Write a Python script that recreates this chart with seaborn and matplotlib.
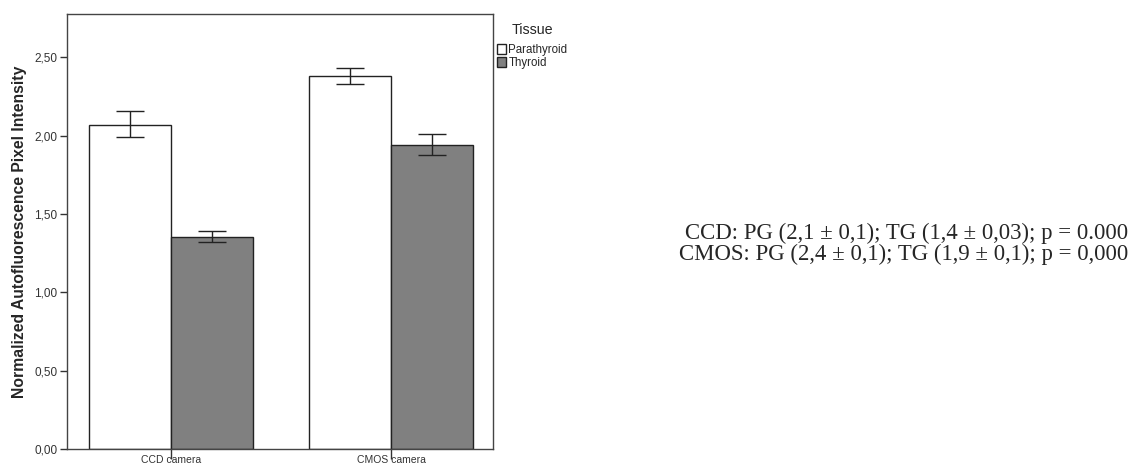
import numpy as np
import pandas as pd
import matplotlib
matplotlib.use("Agg")
import matplotlib.pyplot as plt
import seaborn as sns

cameras = ["CCD camera", "CMOS camera"]
tissues = ["Parathyroid", "Thyroid"]
means = {"Parathyroid": [2.07, 2.38], "Thyroid": [1.355, 1.943]}
err_low = {"Parathyroid": [1.99, 2.328], "Thyroid": [1.324, 1.875]}
err_high = {"Parathyroid": [2.16, 2.43], "Thyroid": [1.39, 2.011]}
yticks = [0.0, 0.5, 1.0, 1.5, 2.0, 2.5]
note_lines = ["CCD: PG (2,1 \u00b1 0,1); TG (1,4 \u00b1 0,03); p = 0.000",
              "CMOS: PG (2,4 \u00b1 0,1); TG (1,9 \u00b1 0,1); p = 0,000"]

rows = []
for t in tissues:
    for i, c in enumerate(cameras):
        rows.append({"camera": c, "tissue": t, "value": means[t][i],
                     "lo": err_low[t][i], "hi": err_high[t][i]})
df = pd.DataFrame(rows)

sns.set_style("white")
plt.rcParams["font.family"] = ["Liberation Sans", "DejaVu Sans"]

fig = plt.figure(figsize=(11.37, 4.65), dpi=100)
ax = fig.add_axes([0.0589, 0.0344, 0.3747, 0.9355])

sns.barplot(data=df, x="camera", y="value", hue="tissue", order=cameras,
            hue_order=tissues, palette={"Parathyroid": "white", "Thyroid": "#808080"},
            errorbar=None, width=0.745, edgecolor="#222222", linewidth=1.0,
            saturation=1, ax=ax)

# error bars at bar centres
for cont, t in zip(ax.containers, tissues):
    sub = df[df["tissue"] == t].set_index("camera").loc[cameras]
    xs = [p.get_x() + p.get_width() / 2 for p in cont.patches]
    yerr = np.array([sub["value"] - sub["lo"], sub["hi"] - sub["value"]])
    ax.errorbar(xs, sub["value"], yerr=yerr, fmt="none", ecolor="#222222",
                elinewidth=1.0, capsize=10, capthick=1.0)

ax.set_xlim(-0.473, 1.464)
ax.set_ylim(0, 2.776)
ax.set_yticks(yticks)
ax.set_yticklabels([f"{v:.2f}".replace(".", ",") for v in yticks], fontsize=8.5, color="#333333")
ax.set_xticks(range(len(cameras)))
ax.set_xticklabels(cameras, fontsize=7.5, color="#333333")
ax.tick_params(axis="y", direction="out", length=5, width=1, color="#333333", pad=2, left=True)
ax.tick_params(axis="x", direction="out", length=7, width=1, color="#333333", pad=-2.5, bottom=True)
ax.set_xlabel("")
ax.set_ylabel("Normalized Autofluorescence Pixel Intensity", fontsize=11.3,
              fontweight="bold", labelpad=5)
for s in ax.spines.values():
    s.set_visible(True)
    s.set_color("#444444")
    s.set_linewidth(1.0)

handles, labels = ax.get_legend_handles_labels()
ax.get_legend().remove()
leg = fig.legend(handles, labels, title="Tissue", loc="upper left",
                 bbox_to_anchor=(490 / 1137, 1 - 16 / 465), frameon=False,
                 fontsize=8.3, title_fontsize=10.3, handlelength=0.8, handleheight=0.95,
                 handletextpad=0.2, labelspacing=0.1, borderpad=0.1)
leg._legend_box.sep = 5

serif = ["Liberation Serif", "DejaVu Serif"]
fig.text(1128 / 1137, 1 - 233 / 465, note_lines[0], ha="right", va="center",
         fontsize=16.4, family=serif)
fig.text(1128 / 1137, 1 - 254 / 465, note_lines[1], ha="right", va="center",
         fontsize=16.4, family=serif)

fig.savefig("out.png", dpi=100)
